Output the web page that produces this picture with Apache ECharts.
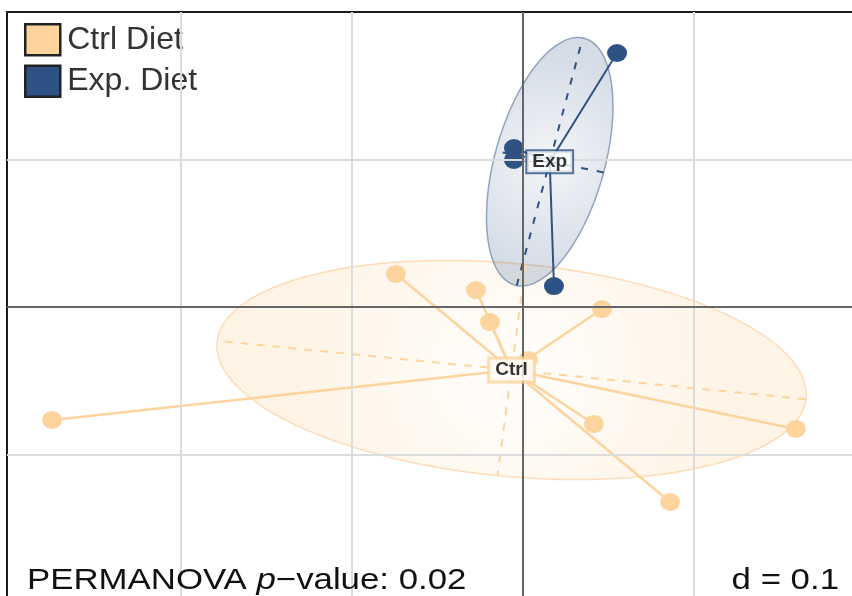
<!DOCTYPE html>
<html>
<head>
<meta charset="utf-8">
<script src="https://cdn.jsdelivr.net/npm/echarts@6/dist/echarts.min.js"></script>
<style>html,body{margin:0;padding:0;background:#fff;}#c{width:852px;height:596px;}</style>
</head>
<body>
<div id="c"></div>
<script>
// ---- data ----
const groupLabels = ['Ctrl', 'Exp'];
const legendNames = ['Ctrl Diet', 'Exp. Diet'];
const ctrlX = [-0.2754, -0.0743, -0.0275, -0.0193, 0.0029, 0.0462, 0.0415, 0.1596, 0.0860];
const ctrlY = [-0.0766, 0.0224, 0.0115, -0.0102, -0.0359, -0.0014, -0.0793, -0.0827, -0.1322];
const expX = [0.0550, -0.0053, -0.0053, 0.0181];
const expY = [0.1722, 0.1078, 0.0997, 0.0142];
const gridXTicks = [-0.2, -0.1, 0.1];
const gridYTicks = [-0.1, 0.1];
const pText = 'PERMANOVA ';
const pValueText = '\u2212value: 0.02';
const dText = 'd = 0.1';
const ellipseScale = 1.5;

// ---- styles ----
const colCtrl = '#FDD49E';
const colExp = '#2E5283';

const groups = [
  { x: ctrlX, y: ctrlY },
  { x: expX, y: expY }
];

function stats(g) {
  const n = g.x.length;
  let mx = 0, my = 0;
  for (let i = 0; i < n; i++) { mx += g.x[i]; my += g.y[i]; }
  mx /= n; my /= n;
  let a = 0, b = 0, c = 0;
  for (let i = 0; i < n; i++) {
    const dx = g.x[i] - mx, dy = g.y[i] - my;
    a += dx * dx; b += dx * dy; c += dy * dy;
  }
  a /= n; b /= n; c /= n;
  const tr = (a + c) / 2, df = Math.sqrt(((a - c) / 2) ** 2 + b * b);
  const l1 = tr + df, l2 = Math.max(tr - df, 0);
  let e1 = Math.abs(b) > 1e-15 ? [b, l1 - a] : (a >= c ? [1, 0] : [0, 1]);
  const nn = Math.hypot(e1[0], e1[1]);
  e1 = [e1[0] / nn, e1[1] / nn];
  const e2 = [-e1[1], e1[0]];
  const s1 = ellipseScale * Math.sqrt(l1), s2 = ellipseScale * Math.sqrt(l2);
  return { mx, my, u: [e1[0] * s1, e1[1] * s1], v: [e2[0] * s2, e2[1] * s2] };
}
const st = groups.map(stats);

const ellipseStyles = [
  { grad: [[0, 'rgba(253,212,158,0.03)'], [1, 'rgba(253,212,158,0.26)']], r: 1.0, stroke: 'rgba(252,205,150,0.65)' },
  { grad: [[0, 'rgba(46,82,131,0.06)'], [1, 'rgba(46,82,131,0.20)']], r: 0.85, stroke: 'rgba(110,130,170,0.7)' }
];
const axisStyles = [
  { stroke: colCtrl, dash: [8, 8] },
  { stroke: colExp, dash: [7, 9] }
];

const chart = echarts.init(document.getElementById('c'), null, { renderer: 'canvas' });

const option = {
  animation: false,
  backgroundColor: '#fff',
  grid: { left: 7, top: 12, right: 0, bottom: 0, containLabel: false },
  xAxis: {
    type: 'value', position: 'top', min: -0.30175, max: 0.19240,
    axisLine: { show: true, onZero: false, lineStyle: { color: '#1a1a1a', width: 2 } },
    axisTick: { show: false }, axisLabel: { show: false }, splitLine: { show: false }
  },
  yAxis: {
    type: 'value', position: 'left', min: -0.19593, max: 0.2,
    axisLine: { show: true, onZero: false, lineStyle: { color: '#1a1a1a', width: 2 } },
    axisTick: { show: false }, axisLabel: { show: false }, splitLine: { show: false }
  },
  legend: {
    data: legendNames.map(n => ({ name: n, icon: 'rect' })),
    left: 19, top: 18, orient: 'vertical',
    itemWidth: 35, itemHeight: 31, itemGap: 8,
    selectedMode: false,
    itemStyle: { borderColor: '#222', borderWidth: 2.5 },
    textStyle: { fontFamily: 'Liberation Sans', fontSize: 32, color: '#333', lineHeight: 31, padding: [0, 0, 0, 2] }
  },
  graphic: [
    {
      type: 'text', x: 27, y: 581, scaleX: 1.16, z: 100,
      style: {
        text: '{a|' + pText + '}{b|p}{a|' + pValueText + '}',
        rich: {
          a: { fontFamily: 'Liberation Sans', fontSize: 30, fill: '#111' },
          b: { fontFamily: 'Liberation Sans', fontSize: 30, fontStyle: 'italic', fill: '#111' }
        },
        align: 'left', verticalAlign: 'middle'
      }
    },
    {
      type: 'text', x: 839, y: 581, scaleX: 1.16, z: 100,
      style: {
        text: dText, fontFamily: 'Liberation Sans', fontSize: 30, fill: '#111',
        align: 'right', verticalAlign: 'middle'
      }
    }
  ],
  series: [
    {
      name: 'grid', type: 'line', data: [], z: 0, silent: true,
      markLine: {
        silent: true, symbol: 'none', label: { show: false }, animation: false,
        data: gridXTicks.map(v => ({ xAxis: v, lineStyle: { color: '#dcdcdc', width: 2, type: 'solid' } }))
          .concat(gridYTicks.map(v => ({ yAxis: v, lineStyle: { color: '#dcdcdc', width: 2, type: 'solid' } })))
          .concat([{ xAxis: 0, lineStyle: { color: '#666', width: 2, type: 'solid' } },
                   { yAxis: 0, lineStyle: { color: '#666', width: 2, type: 'solid' } }])
      }
    },
    {
      name: 'ellipses', type: 'custom', z: 1, silent: true,
      data: [[0], [1]],
      renderItem: function (params, api) {
        const gi = params.dataIndex;
        const s = st[gi];
        const pts = [];
        for (let k = 0; k <= 120; k++) {
          const t = 2 * Math.PI * k / 120;
          pts.push(api.coord([s.mx + s.u[0] * Math.cos(t) + s.v[0] * Math.sin(t),
                              s.my + s.u[1] * Math.cos(t) + s.v[1] * Math.sin(t)]));
        }
        const es = ellipseStyles[gi];
        return {
          type: 'polygon', shape: { points: pts },
          style: {
            fill: new echarts.graphic.RadialGradient(0.5, 0.5, es.r,
              es.grad.map(g => ({ offset: g[0], color: g[1] }))),
            stroke: es.stroke, lineWidth: 1.5
          }
        };
      }
    },
    {
      name: 'axes', type: 'custom', z: 2, silent: true,
      data: [[0], [1]],
      renderItem: function (params, api) {
        const gi = params.dataIndex;
        const s = st[gi];
        const as = axisStyles[gi];
        const mk = (vec) => {
          const p1 = api.coord([s.mx - vec[0], s.my - vec[1]]);
          const p2 = api.coord([s.mx + vec[0], s.my + vec[1]]);
          return { type: 'line', shape: { x1: p1[0], y1: p1[1], x2: p2[0], y2: p2[1] },
                   style: { stroke: as.stroke, lineWidth: 2, lineDash: as.dash } };
        };
        return { type: 'group', children: [mk(s.u), mk(s.v)] };
      }
    },
    {
      name: 'stars', type: 'custom', z: 3, silent: true,
      data: [[0], [1]],
      renderItem: function (params, api) {
        const gi = params.dataIndex;
        const s = st[gi], g = groups[gi];
        const c = api.coord([s.mx, s.my]);
        const children = g.x.map((x, i) => {
          const p = api.coord([x, g.y[i]]);
          return { type: 'line', shape: { x1: c[0], y1: c[1], x2: p[0], y2: p[1] },
                   style: { stroke: gi === 0 ? colCtrl : colExp, lineWidth: gi === 0 ? 2.5 : 2 } };
        });
        return { type: 'group', children };
      }
    },
    {
      name: legendNames[0], type: 'scatter', z: 4,
      data: ctrlX.map((x, i) => [x, ctrlY[i]]),
      symbol: 'circle', symbolSize: [20, 18],
      itemStyle: { color: colCtrl, opacity: 1 }
    },
    {
      name: legendNames[1], type: 'scatter', z: 4,
      data: expX.map((x, i) => [x, expY[i]]),
      symbol: 'circle', symbolSize: [20, 18],
      itemStyle: { color: colExp, opacity: 1 }
    },
    {
      name: 'labels', type: 'scatter', z: 6, silent: true,
      data: st.map((s, i) => ({
        value: [s.mx, s.my], name: groupLabels[i],
        label: { borderColor: i === 0 ? colCtrl : colExp, borderWidth: i === 0 ? 3 : 2 }
      })),
      symbolSize: 1, itemStyle: { color: 'rgba(0,0,0,0)' },
      label: {
        show: true, position: 'inside', formatter: '{b}',
        fontFamily: 'Liberation Sans', fontWeight: 'bold', fontSize: 19, color: '#000',
        textBorderWidth: 0,
        backgroundColor: '#fff', padding: [1, 5, 0, 5], lineHeight: 20
      }
    }
  ]
};
chart.setOption(option);
</script>
</body>
</html>
